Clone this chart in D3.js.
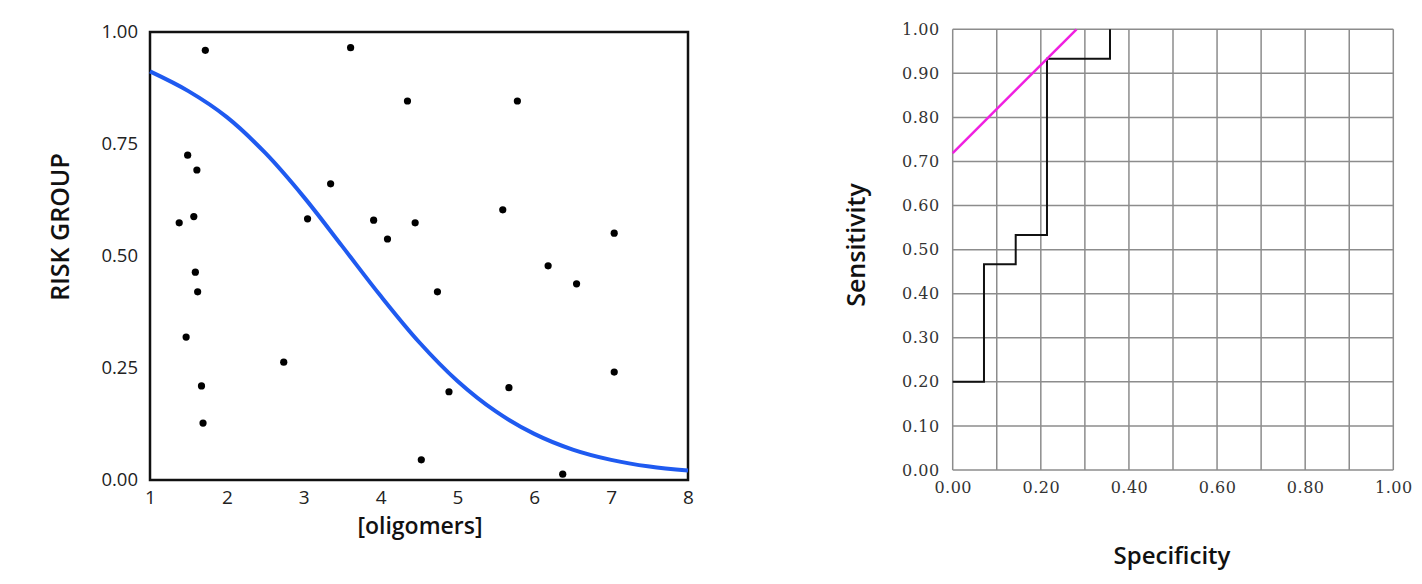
<!DOCTYPE html>
<html><head><meta charset="utf-8">
<script src="https://cdn.jsdelivr.net/npm/d3@7"></script>
<style>body{margin:0;background:#fff}svg{display:block}</style>
</head><body>
<svg id="c" width="1422" height="584"></svg>
<script>
// Left chart: scatter of risk group vs oligomers
const oligomers = [1.72,3.61,4.35,5.78,1.49,1.61,3.35,1.38,1.57,3.05,3.91,4.45,4.09,5.59,7.04,1.59,1.62,1.47,2.74,1.67,1.69,4.74,6.18,6.55,7.04,4.89,5.67,4.53,6.37];
const riskGroup = [0.959,0.965,0.846,0.846,0.725,0.692,0.661,0.574,0.588,0.583,0.580,0.574,0.538,0.603,0.551,0.464,0.420,0.319,0.263,0.210,0.127,0.420,0.478,0.438,0.241,0.197,0.206,0.045,0.013];
// fitted curve
const fitX = [1,1.5,2,2.5,3,3.5,4,4.5,5,5.5,6,6.5,7,7.5,8];
const fitY = [0.912,0.868,0.810,0.730,0.632,0.522,0.411,0.308,0.221,0.153,0.103,0.068,0.045,0.030,0.021];
const leftXTicks = [1,2,3,4,5,6,7,8];
const leftYTicks = [0,0.25,0.5,0.75,1];

// Right chart: ROC curve
const rocSpec = [0,0.071,0.143,0.214,0.357,0.357];
const rocSens = [0.2,0.467,0.533,0.933,1.0,1.0];
const youdenSpec = [0,0.281];
const youdenSens = [0.719,1.0];
const rightTicks = [0,0.1,0.2,0.3,0.4,0.5,0.6,0.7,0.8,0.9,1.0];
const rightXLabels = [0,0.2,0.4,0.6,0.8,1.0];

const svg = d3.select("#c");

// ---------- left ----------
const lx = d3.scaleLinear().domain([1,8]).range([150,688]);
const ly = d3.scaleLinear().domain([0,1]).range([480,32]);
const L = svg.append("g");
L.append("rect").attr("x",lx(1)).attr("y",ly(1)).attr("width",lx(8)-lx(1)).attr("height",ly(0)-ly(1))
  .attr("fill","none").attr("stroke","#111").attr("stroke-width",2.5);

const fitData = fitX.map((x,i)=>[x,fitY[i]]);
L.append("path").datum(fitData)
  .attr("d", d3.line().x(d=>lx(d[0])).y(d=>ly(d[1])).curve(d3.curveCatmullRom))
  .attr("fill","none").attr("stroke","#1f5af0").attr("stroke-width",4);

L.selectAll("circle.pt").data(oligomers.map((x,i)=>[x,riskGroup[i]])).join("circle")
  .attr("class","pt").attr("cx",d=>lx(d[0])).attr("cy",d=>ly(d[1])).attr("r",3.6).attr("fill","#000");

const lxAxis = L.append("g").attr("transform",`translate(0,${ly(0)})`)
  .call(d3.axisBottom(lx).tickValues(leftXTicks).tickFormat(d3.format("d")).tickSize(0).tickPadding(11));
lxAxis.select(".domain").remove();
lxAxis.selectAll("text").attr("font-family","Open Sans").attr("font-size",19).attr("fill","#222");
const lyAxis = L.append("g").attr("transform",`translate(${lx(1)},0)`)
  .call(d3.axisLeft(ly).tickValues(leftYTicks).tickFormat(d3.format(".2f")).tickSize(0).tickPadding(12));
lyAxis.select(".domain").remove();
lyAxis.selectAll("text").attr("font-family","Open Sans").attr("font-size",18.5).attr("fill","#222");

L.append("text").attr("x",420).attr("y",534).attr("text-anchor","middle")
  .attr("font-family","Open Sans").attr("font-weight",600).attr("font-size",23).attr("fill","#111").text("[oligomers]");
L.append("text").attr("transform","translate(69,227) rotate(-90)").attr("text-anchor","middle")
  .attr("font-family","Open Sans").attr("font-weight",600).attr("font-size",25).attr("fill","#111").text("RISK GROUP");

// ---------- right ----------
const rx = d3.scaleLinear().domain([0,1]).range([952.7,1393.3]);
const ry = d3.scaleLinear().domain([0,1]).range([470,29.3]);
const R = svg.append("g");
R.selectAll("line.v").data(rightTicks).join("line").attr("class","v")
  .attr("x1",d=>rx(d)).attr("x2",d=>rx(d)).attr("y1",ry(0)).attr("y2",ry(1))
  .attr("stroke","#8c8c8c").attr("stroke-width",1.5);
R.selectAll("line.h").data(rightTicks).join("line").attr("class","h")
  .attr("y1",d=>ry(d)).attr("y2",d=>ry(d)).attr("x1",rx(0)).attr("x2",rx(1))
  .attr("stroke","#8c8c8c").attr("stroke-width",1.5);

const rxAxis = R.append("g").attr("transform",`translate(0,${ry(0)})`)
  .call(d3.axisBottom(rx).tickValues(rightXLabels).tickFormat(d3.format(".2f")).tickSize(0).tickPadding(12));
rxAxis.select(".domain").remove();
rxAxis.selectAll("text").attr("font-family","DejaVu Serif").attr("font-size",16).attr("fill","#333").attr("letter-spacing",0.5);
const ryAxis = R.append("g").attr("transform",`translate(${rx(0)},0)`)
  .call(d3.axisLeft(ry).tickValues(rightTicks).tickFormat(d3.format(".2f")).tickSize(0).tickPadding(13));
ryAxis.select(".domain").remove();
ryAxis.selectAll("text").attr("font-family","DejaVu Serif").attr("font-size",16).attr("fill","#333").attr("letter-spacing",0.5);

R.append("path").datum(rocSpec.map((x,i)=>[x,rocSens[i]]))
  .attr("d", d3.line().x(d=>rx(d[0])).y(d=>ry(d[1])).curve(d3.curveStepAfter))
  .attr("fill","none").attr("stroke","#111").attr("stroke-width",2);
R.append("path").datum(youdenSpec.map((x,i)=>[x,youdenSens[i]]))
  .attr("d", d3.line().x(d=>rx(d[0])).y(d=>ry(d[1])))
  .attr("fill","none").attr("stroke","#f020e0").attr("stroke-width",2.5);

R.append("text").attr("x",1172).attr("y",564).attr("text-anchor","middle")
  .attr("font-family","Open Sans").attr("font-weight",600).attr("font-size",24).attr("fill","#111").text("Specificity");
R.append("text").attr("transform","translate(865,245) rotate(-90)").attr("text-anchor","middle")
  .attr("font-family","Open Sans").attr("font-weight",600).attr("font-size",25).attr("fill","#111").text("Sensitivity");
</script>
</body></html>
